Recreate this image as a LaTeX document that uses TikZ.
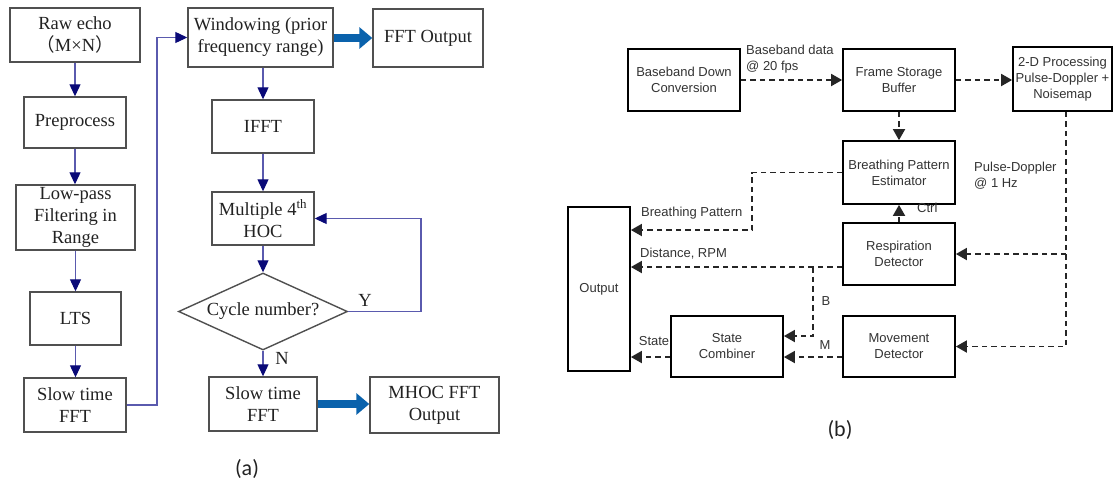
\documentclass[tikz,border=0pt]{standalone}
\usepackage{fontspec}
\setmainfont{Liberation Serif}
\newfontfamily\arialfont{Liberation Sans}
\newfontfamily\cjkfont{Noto Sans CJK SC}
\newfontfamily\capfont{Carlito}
\usetikzlibrary{arrows.meta,shapes.geometric}

\definecolor{boxgray}{HTML}{505050}
\definecolor{flowblue}{HTML}{5A5AAE}
\definecolor{headnavy}{HTML}{0A0A78}
\definecolor{thickblue}{HTML}{0A62AC}
\definecolor{txt}{HTML}{222222}

\tikzset{
  abox/.style={draw=boxgray, line width=1.4pt, fill=white, inner sep=0pt,
    align=center, text=txt, font=\fontsize{18.5}{22}\selectfont},
  flow/.style={draw=flowblue, line width=1.1pt,
    -{Triangle[length=12pt,width=11pt,color=headnavy]}},
  bigarrow/.style={draw=thickblue, line width=8pt,
    -{Triangle[length=13pt,width=21pt]}},
  albl/.style={inner sep=0pt, text=txt, font=\fontsize{18.5}{22}\selectfont},
  bbox/.style={draw=black, line width=1.7pt, fill=white, inner sep=0pt,
    align=center, text=black!80, font=\arialfont\fontsize{13}{16}\selectfont},
  dflow/.style={draw=black!85, line width=1.8pt, dash pattern=on 5.5pt off 4pt,
    -{Triangle[length=11pt,width=12pt]}},
  blbl/.style={inner sep=0pt, text=black!80, align=left,
    font=\arialfont\fontsize{13}{16}\selectfont},
  caplbl/.style={inner sep=0pt, text=txt, font=\capfont\fontsize{22}{26}\selectfont}
}

\begin{document}
\begin{tikzpicture}[x=1pt,y=-1pt]
\useasboundingbox (0,0) rectangle (1115,488);

% ---------------- (a) HOC flow chart ----------------
\node[abox, minimum width=130pt, minimum height=54pt] (raw) at (75,35)
  {Raw echo\\{\cjkfont （}M×N{\cjkfont ）}};
\node[abox, minimum width=102pt, minimum height=51pt] (pre) at (75,122.5) {Preprocess};
\node[abox, minimum width=119pt, minimum height=65pt] (lpf) at (75.5,217.5)
  {Low-pass\\Filtering in\\Range};
\node[abox, minimum width=91pt, minimum height=53pt] (lts) at (75.5,318.5) {LTS};
\node[abox, minimum width=102pt, minimum height=54pt] (sft1) at (75,405) {Slow time\\FFT};

\node[abox, minimum width=145pt, minimum height=59pt] (win) at (260.5,37.5)
  {Windowing (prior\\frequency range)};
\node[abox, minimum width=110pt, minimum height=58pt] (fftout) at (428,38) {FFT Output};
\node[abox, minimum width=102pt, minimum height=53pt] (ifft) at (263,126.5) {IFFT};
\node[abox, minimum width=102pt, minimum height=53pt] (hoc) at (263,218.5)
  {Multiple 4\textsuperscript{th}\\HOC};
\node[abox, shape=diamond, aspect=2.2, minimum width=169pt, minimum height=77pt]
  (cyc) at (263,311.5) {Cycle number?};
\node[abox, minimum width=108pt, minimum height=54pt] (sft2) at (263,404) {Slow time\\FFT};
\node[abox, minimum width=129pt, minimum height=56pt] (mhoc) at (434.5,405)
  {MHOC FFT\\Output};

\coordinate (lcorner) at (157,405);
\coordinate (ycorner) at (421,311.5);

\draw[flow] (raw) -- (pre);
\draw[flow] (pre) -- (pre |- lpf.north);
\draw[flow] (lpf.south) -- (lpf.south |- lts.north);
\draw[flow] (lts.south) -- (lts.south |- sft1.north);
\draw[flow] (sft1.east) -- (lcorner) |- (win.west);
\draw[flow] (ifft.north |- win.south) -- (ifft.north);
\draw[flow] (ifft) -- (hoc);
\draw[flow] (hoc) -- (cyc);
\draw[flow] (cyc) -- (sft2);
\draw[flow] (cyc.east) -- (ycorner) |- (hoc.east);
\draw[bigarrow] (win.east |- fftout.west) -- (fftout.west);
\draw[bigarrow] (sft2.east) -- (mhoc.west |- sft2.east);

\node[albl] (ylbl) at (365,300) {Y};
\node[albl] (nlbl) at (282,358) {N};
\node[caplbl] (capa) at (247,469) {(a)};

% ---------------- (b) respiration monitoring pipeline ----------------
\node[bbox, minimum width=112pt, minimum height=62pt] (bdc) at (684,80)
  {Baseband Down\\Conversion};
\node[bbox, minimum width=112pt, minimum height=62pt] (fsb) at (899,80)
  {Frame Storage\\Buffer};
\node[bbox, minimum width=99pt, minimum height=64pt] (p2d) at (1062.5,79)
  {2-D Processing\\Pulse-Doppler +\\Noisemap};
\node[bbox, minimum width=112pt, minimum height=63pt] (bpe) at (899,172.5)
  {Breathing Pattern\\Estimator};
\node[bbox, minimum width=62pt, minimum height=164pt] (out) at (599,289) {Output};
\node[bbox, minimum width=112pt, minimum height=62pt] (resp) at (899,254)
  {Respiration\\Detector};
\node[bbox, minimum width=112pt, minimum height=61pt] (sc) at (727,346.5)
  {State\\Combiner};
\node[bbox, minimum width=112pt, minimum height=61pt] (mov) at (899,346.5)
  {Movement\\Detector};

\coordinate (bpl) at (752,230);
\coordinate (rpy) at (813,267);
\coordinate (bbot) at (813,336);
\coordinate (mvy) at (0,357);
\coordinate (pd) at (1066,346.5);

\draw[dflow] (bdc.east) -- (fsb.west);
\draw[dflow] (fsb.east) -- (p2d.west |- fsb.east);
\draw[dflow] (fsb.south) -- (bpe.north);
\draw[dflow] (bpe.west) -| (bpl) -- (out.east |- bpl);
\draw[dflow] (resp.north) -- (bpe.south);
\draw[dflow] (p2d.south -| pd) -- (pd) -- (mov.east);
\draw[dflow] (pd |- resp.east) -- (resp.east);
\draw[dflow] (resp.west |- rpy) -- (out.east |- rpy);
\draw[dflow] (rpy) -- (bbot) -- (sc.east |- bbot);
\draw[dflow] (mov.west |- mvy) -- (sc.east |- mvy);
\draw[dflow] (sc.west |- mvy) -- (out.east |- mvy);

\node[blbl, anchor=west] (bbdata) at (746,59) {Baseband data\\@ 20 fps};
\node[blbl, anchor=west] (pdlbl) at (974,176) {Pulse-Doppler\\@ 1 Hz};
\node[blbl, anchor=west] (bplbl) at (641,213) {Breathing Pattern};
\node[blbl, anchor=west] (ctrl) at (917,208) {Ctrl};
\node[blbl, anchor=west] (dist) at (640,254) {Distance, RPM};
\node[blbl] (blbl) at (826,301) {B};
\node[blbl] (mlbl) at (825,345) {M};
\node[blbl] (state) at (654,341) {State};
\node[caplbl] (capb) at (840,430) {(b)};
\end{tikzpicture}
\end{document}
